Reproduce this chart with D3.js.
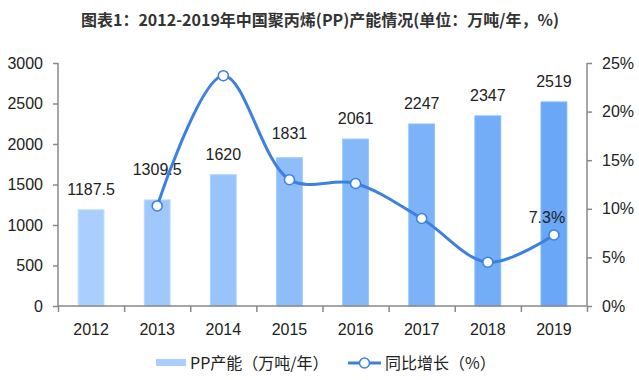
<!DOCTYPE html>
<html><head><meta charset="utf-8">
<script src="https://cdn.jsdelivr.net/npm/d3@7/dist/d3.min.js"></script>
<style>
html,body{margin:0;padding:0;background:#fff;}
svg{display:block;}
</style></head>
<body>
<svg id="chart" width="639" height="380"></svg>
<script>
const years = ["2012","2013","2014","2015","2016","2017","2018","2019"];
const capacity = [1187.5, 1309.5, 1620, 1831, 2061, 2247, 2347, 2519];
const growth = [null, 10.3, 23.7, 13.0, 12.6, 9.0, 4.5, 7.3];
const leftTicks = [0, 500, 1000, 1500, 2000, 2500, 3000];
const rightTicks = [0, 5, 10, 15, 20, 25];
const capacityLabels = ["1187.5","1309.5","1620","1831","2061","2247","2347","2519"];
const growthLabelShown = ["","","","","","","","7.3%"];
const title = "图表1：2012-2019年中国聚丙烯(PP)产能情况(单位：万吨/年，%)";
const legendNames = ["PP产能（万吨/年）", "同比增长（%）"];

// style constants
const labelLift = [15, 25, 15, 19, 15, 15, 15, 15];
const FONT = "'Liberation Sans', Arial, sans-serif";
const CJK = "'Noto Sans CJK SC', 'Noto Sans', sans-serif";
const lineColor = "#3c80e0";
const axisColor = "#898989";
const FS = 16;

const svg = d3.select("#chart");
const L = 58, R = 587, T = 63, B = 306;

const x = d3.scaleBand().domain(years).range([L, R]).paddingInner(0.61).paddingOuter(0.305);
const xc = d => x(d) + x.bandwidth() / 2;
const yL = d3.scaleLinear().domain([0, 3000]).range([B, T]);
const yR = d3.scaleLinear().domain([0, 25]).range([B, T]);
const barColor = d3.scaleLinear().domain([0, years.length - 1]).range(["#aacefd", "#6aa7f6"]);

svg.append("text").attr("x", 320).attr("y", 26).attr("text-anchor", "middle")
  .attr("font-family", CJK).attr("font-weight", "bold").attr("font-size", 16)
  .attr("fill", "#333").text(title);

// bars
svg.append("g").selectAll("rect").data(capacity).join("rect")
  .attr("x", (d, i) => x(years[i]))
  .attr("y", d => yL(d))
  .attr("width", x.bandwidth())
  .attr("height", d => B - yL(d))
  .attr("fill", (d, i) => barColor(i))
  .attr("stroke", (d, i) => d3.color(barColor(i)).brighter(0.25))
  .attr("stroke-width", 1);

// axes
const gl = svg.append("g").attr("transform", `translate(${L},0)`)
  .call(d3.axisLeft(yL).tickValues(leftTicks).tickSize(5).tickPadding(10).tickFormat(d3.format("d")));
const gr = svg.append("g").attr("transform", `translate(${R},0)`)
  .call(d3.axisRight(yR).tickValues(rightTicks).tickSize(5).tickPadding(10).tickFormat(d => d + "%"));
const xb = d3.scalePoint().domain(d3.range(years.length + 1)).range([L, R]);
const gb = svg.append("g").attr("transform", `translate(0,${B})`)
  .call(d3.axisBottom(xb).tickSize(6).tickFormat(""));
[gl, gr, gb].forEach(g => {
  g.selectAll("path.domain").attr("stroke", axisColor).attr("stroke-width", 1.5);
  g.selectAll(".tick line").attr("stroke", axisColor).attr("stroke-width", 1.5);
  g.selectAll(".tick text").attr("font-family", FONT).attr("font-size", FS).attr("fill", "#222");
});
gl.select("path.domain").attr("d", `M-0,${B}V${T}`);
gr.select("path.domain").attr("d", `M0,${B}V${T}`);
gb.select("path.domain").attr("d", `M${L},0H${R}`);

svg.append("g").selectAll("text").data(years).join("text")
  .attr("x", d => xc(d)).attr("y", 335).attr("text-anchor", "middle")
  .attr("font-family", FONT).attr("font-size", FS).attr("fill", "#222").text(d => d);

// bar labels
svg.append("g").selectAll("text").data(capacityLabels).join("text")
  .attr("x", (d, i) => xc(years[i]))
  .attr("y", (d, i) => yL(capacity[i]) - labelLift[i])
  .attr("text-anchor", "middle").attr("font-family", FONT).attr("font-size", FS).attr("fill", "#222")
  .text(d => d);

// growth line
const pts = growth.map((g, i) => ({ i, g })).filter(d => d.g !== null);
const line = d3.line().x(d => xc(years[d.i])).y(d => yR(d.g)).curve(d3.curveCatmullRom.alpha(0.5));
svg.append("path").datum(pts).attr("d", line).attr("fill", "none")
  .attr("stroke", lineColor).attr("stroke-width", 3);
svg.append("g").selectAll("circle").data(pts).join("circle")
  .attr("cx", d => xc(years[d.i])).attr("cy", d => yR(d.g)).attr("r", 5)
  .attr("fill", "#fff").attr("stroke", lineColor).attr("stroke-width", 1.5);
svg.append("g").selectAll("text").data(pts.filter(d => growthLabelShown[d.i])).join("text")
  .attr("x", d => xc(years[d.i]) - 7).attr("y", d => yR(d.g) - 12)
  .attr("text-anchor", "middle").attr("font-family", FONT).attr("font-size", FS).attr("fill", "#222")
  .text(d => growthLabelShown[d.i]);

// legend
const lg = svg.append("g");
lg.append("rect").attr("x", 156).attr("y", 359).attr("width", 30).attr("height", 7).attr("fill", "#aacefd");
lg.append("text").attr("x", 190).attr("y", 369).attr("font-family", CJK).attr("font-size", FS)
  .attr("fill", "#222").text(legendNames[0]);
lg.append("line").attr("x1", 348).attr("x2", 381).attr("y1", 363).attr("y2", 363)
  .attr("stroke", lineColor).attr("stroke-width", 3);
lg.append("circle").attr("cx", 364.5).attr("cy", 363).attr("r", 5)
  .attr("fill", "#fff").attr("stroke", lineColor).attr("stroke-width", 1.5);
lg.append("text").attr("x", 385).attr("y", 369).attr("font-family", CJK).attr("font-size", FS)
  .attr("fill", "#222").text(legendNames[1]);
</script>
</body></html>
